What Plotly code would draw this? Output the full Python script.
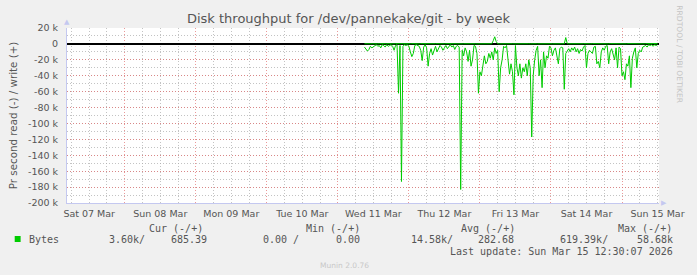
import plotly.graph_objects as go
import pandas as pd

# ---------------- data ----------------
data_start = "2026-03-11 09:00"      # first 30-min sample
range_start = "2026-03-07 04:30"
range_end = "2026-03-15 12:30"

# read bytes/s (k), drawn downward (munin negative convention)
read_k = [
    4, 6, 9, 7, 3, 5, 4,
    2, 1, 3, 2, 5, 1, 2, 4, 1, 3, 2, 1,
    3, 8, 2, 1, 62, 2, 173, 3, 1,
    2, 1, 3, 10, 16, 12, 2, 1, 2, 3, 8,
    21, 4, 1, 5, 28, 12, 6, 14, 8, 3, 10, 5,
    2, 4, 8, 5, 2, 6, 3, 1, 4, 2, 7, 3, 2, 4,
    183, 8, 15, 5, 10, 22, 8, 28, 20, 2, 3, 12,
    62, 35, 40, 30, 15, 25, 22, 12, 18, 10, 20, 5, 12, 8,
    60, 30, 20, 3, 5, 2, 20, 38, 25, 35, 64, 2,
    30, 40, 25, 43, 30, 35, 25, 40, 20, 30, 117, 40, 20, 8, 3,
    40, 20, 55, 10, 30, 15, 18, 3, 5, 15, 8, 5, 18, 25, 6, 4, 5,
    57, 12, 8, 6, 10, 5, 8, 4, 10, 6, 12, 7, 9, 4, 2,
    30, 12, 8, 10, 12, 4, 3, 25, 22, 30, 10, 5, 8, 3, 2, 25,
    10, 6, 15, 20, 5, 30, 4, 6, 40, 35, 45, 25, 28, 15, 55, 18,
    10, 5, 30, 12, 8, 10, 4, 3, 2, 4, 1, 2, 1, 3, 1, 2, 1,
]

# write bytes/s (k), drawn upward
write_k = [
    0.2, 0.1, 0.3, 0.2, 0.1, 0.2, 0.4,
    0.1, 0.2, 0.1, 0.3, 0.1, 0.2, 0.1, 0.2, 0.3, 0.1, 0.2, 0.1,
    0.2, 0.1, 0.3, 0.2, 0.1, 0.2, 0.1, 0.3, 0.2,
    0.1, 0.2, 0.1, 0.2, 0.3, 0.1, 0.2, 0.1, 0.2, 0.1, 0.3,
    0.2, 0.1, 0.2, 0.1, 0.3, 0.2, 0.1, 0.2, 0.1, 0.2, 0.3, 0.1,
    0.2, 0.1, 0.2, 0.1, 0.3, 0.2, 0.1, 0.2, 0.1, 0.2, 0.1, 0.3, 0.2, 0.1,
    0.2, 0.1, 0.2, 0.3, 0.1, 0.2, 0.1, 0.2, 0.1, 0.3, 0.2, 0.1,
    0.2, 0.1, 0.2, 0.1, 0.3, 0.2, 0.1, 0.2, 0.1, 0.2, 4.0, 9.0, 3.0, 0.2,
    0.1, 0.2, 0.3, 0.1, 0.2, 0.1, 0.2, 0.1, 0.3, 0.2, 0.1, 0.2,
    0.1, 0.2, 0.1, 0.3, 0.2, 0.1, 0.2, 0.1, 0.2, 0.1, 0.3, 0.2, 0.1, 0.2, 0.1,
    0.2, 0.3, 0.1, 0.2, 0.1, 0.2, 0.1, 0.3, 0.2, 0.1, 0.2, 0.1, 0.2, 0.3, 0.1, 0.2, 0.1,
    0.2, 8.0, 0.3, 0.2, 0.1, 0.2, 0.1, 0.3, 0.2, 0.1, 0.2, 0.1, 0.2, 0.3, 0.1,
    0.2, 0.1, 0.2, 0.1, 0.3, 0.2, 0.1, 0.2, 0.1, 0.2, 0.3, 0.1, 0.2, 0.1, 0.2, 0.1,
    0.3, 0.2, 0.1, 0.2, 0.1, 0.2, 0.3, 0.1, 0.2, 0.1, 0.2, 0.1, 0.3, 0.2, 0.1, 0.2,
    0.1, 0.2, 0.3, 0.1, 0.2, 0.1, 0.2, 0.1, 0.3, 0.2, 0.1, 0.2, 0.1, 0.2, 0.3, 0.4, 0.7,
]

y_tick_vals = [20000, 0, -20000, -40000, -60000, -80000, -100000, -120000,
               -140000, -160000, -180000, -200000]
y_tick_text = ["20 k", "0", "-20 k", "-40 k", "-60 k", "-80 k", "-100 k", "-120 k",
               "-140 k", "-160 k", "-180 k", "-200 k"]

day_labels = ["Sat 07 Mar", "Sun 08 Mar", "Mon 09 Mar", "Tue 10 Mar", "Wed 11 Mar",
              "Thu 12 Mar", "Fri 13 Mar", "Sat 14 Mar", "Sun 15 Mar"]
day_noons = pd.date_range("2026-03-07 12:00", periods=len(day_labels), freq="D")

title = "Disk throughput for /dev/pannekake/git - by week"
ylabel = "Pr second read (-) / write (+)"
legend_headers = ["Cur (-/+)", "Min (-/+)", "Avg (-/+)", "Max (-/+)"]
series_name = "Bytes"
legend_values = ["3.60k/", "685.39", "0.00 /", "0.00", "14.58k/", "282.68", "619.39k/", "58.68k"]
last_update = "Last update: Sun Mar 15 12:30:07 2026"
credit_right = "RRDTOOL / TOBI OETIKER"
credit_bottom = "Munin 2.0.76"

# ---------------- geometry / style ----------------
W, H = 697, 275
ML, MR, MT, MB = 67, 30, 28, 72
PW, PH = W - ML - MR, H - MT - MB
GREEN = "#00CC00"
TXT = "#555555"
AXIS = "#C4C8F0"
MAJ = "rgba(225,110,110,0.7)"
MIN = "rgba(170,170,170,0.7)"
DOT = "1px,2px"
DAY_MS = 24 * 3600 * 1000


def px_x(px):
    return (px - ML) / PW


def px_y(py):
    return (H - MB - py) / PH


times = pd.date_range(data_start, periods=len(read_k), freq="30min")

fig = go.Figure()
fig.add_trace(go.Scatter(x=times, y=[-v * 1000 for v in read_k], mode="lines",
                         line=dict(color=GREEN, width=1), hoverinfo="skip"))
fig.add_trace(go.Scatter(x=times, y=[v * 1000 for v in write_k], mode="lines",
                         line=dict(color=GREEN, width=1), hoverinfo="skip"))
# carrier trace for the label axis
fig.add_trace(go.Scatter(x=list(day_noons), y=[None] * len(day_noons), xaxis="x2",
                         mode="lines", hoverinfo="skip", showlegend=False))

fig.update_layout(
    width=W, height=H,
    margin=dict(l=ML, r=MR, t=MT, b=MB, pad=0),
    paper_bgcolor="#F0F0F0", plot_bgcolor="white",
    showlegend=False,
    font=dict(family="DejaVu Sans", color=TXT, size=10),
    title=dict(text=title, x=0.5, xref="container", xanchor="center",
               y=1 - 18 / H, yref="container", yanchor="middle",
               font=dict(size=13, color=TXT, family="DejaVu Sans")),
    xaxis=dict(type="date", range=[range_start, range_end],
               tickmode="linear", tick0="2026-03-07 00:00", dtick=DAY_MS,
               showticklabels=False, ticks="",
               showgrid=True, gridcolor=MAJ, griddash=DOT, gridwidth=1,
               minor=dict(tickmode="linear", dtick=DAY_MS / 4, tick0="2026-03-07 00:00",
                          showgrid=True, gridcolor=MIN, griddash=DOT, gridwidth=1),
               showline=True, linecolor=AXIS, linewidth=1, zeroline=False),
    xaxis2=dict(type="date", range=[range_start, range_end], overlaying="x",
                anchor="y", side="bottom",
                tickvals=list(day_noons), ticktext=day_labels, ticks="",
                showgrid=False, zeroline=False, showline=False,
                tickfont=dict(size=9.5, color=TXT), ticklabelstandoff=3),
    yaxis=dict(range=[-200000, 20000], tickvals=y_tick_vals, ticktext=y_tick_text,
               ticks="", tickfont=dict(size=9.5, color=TXT), ticklabelstandoff=6,
               showgrid=True, gridcolor=MAJ, griddash=DOT, gridwidth=1,
               minor=dict(dtick=10000, tick0=0, showgrid=True, gridcolor=MIN,
                          griddash=DOT, gridwidth=1),
               zeroline=True, zerolinecolor="black", zerolinewidth=1.5,
               showline=True, linecolor=AXIS, linewidth=1),
)

ann = []
# y axis title
ann.append(dict(text=ylabel, x=px_x(12), y=0.5, xref="paper", yref="paper",
                textangle=-90, showarrow=False, xanchor="center", yanchor="middle",
                font=dict(size=10.3, color=TXT)))
# axis arrows
ann.append(dict(text="▲", x=0, y=px_y(22), xref="paper", yref="paper", showarrow=False,
                xanchor="center", yanchor="middle", font=dict(size=7, color=AXIS)))
ann.append(dict(text="▶", x=px_x(672), y=0, xref="paper", yref="paper", showarrow=False,
                xanchor="center", yanchor="middle", font=dict(size=7, color=AXIS)))
# right credit
ann.append(dict(text=credit_right, x=px_x(687), y=px_y(55), xref="paper", yref="paper",
                textangle=90, showarrow=False, xanchor="center", yanchor="middle",
                font=dict(size=7.6, color="#C4C4C4")))
# bottom credit
ann.append(dict(text=credit_bottom, x=px_x(348), y=px_y(265), xref="paper", yref="paper",
                showarrow=False, xanchor="center", yanchor="middle",
                font=dict(size=7.5, color="#C8C8C8")))

MONO = "DejaVu Sans Mono"
header_left = [148, 307, 464, 623]
for t, lx in zip(legend_headers, header_left):
    ann.append(dict(text=t, x=px_x(lx), y=px_y(228), xref="paper", yref="paper",
                    showarrow=False, xanchor="left", yanchor="middle",
                    font=dict(family=MONO, size=10, color=TXT)))
ann.append(dict(text=series_name, x=px_x(26), y=px_y(239), xref="paper", yref="paper",
                showarrow=False, xanchor="left", yanchor="middle",
                font=dict(family=MONO, size=10, color=TXT)))
value_right = [148, 211, 304, 366, 460, 522, 617, 683]
for t, rx in zip(legend_values, value_right):
    ann.append(dict(text=t, x=px_x(rx), y=px_y(239), xref="paper", yref="paper",
                    showarrow=False, xanchor="right", yanchor="middle",
                    font=dict(family=MONO, size=10, color=TXT)))
ann.append(dict(text=last_update, x=px_x(683), y=px_y(251), xref="paper", yref="paper",
                showarrow=False, xanchor="right", yanchor="middle",
                font=dict(family=MONO, size=10, color=TXT)))
fig.update_layout(annotations=ann)

# legend swatch
fig.add_shape(type="rect", xref="paper", yref="paper",
              x0=px_x(14), x1=px_x(20), y0=px_y(242), y1=px_y(236),
              fillcolor=GREEN, line=dict(width=0))

fig.write_html("out.html")
